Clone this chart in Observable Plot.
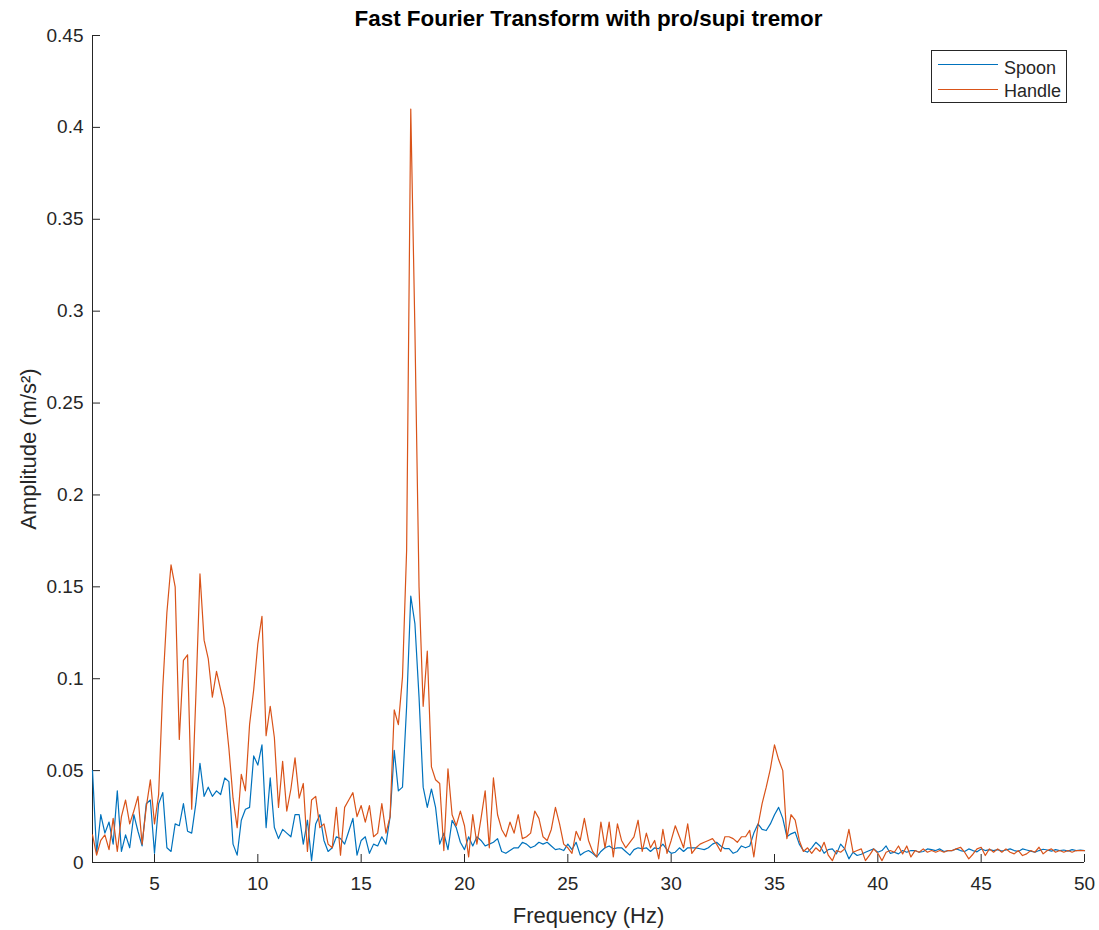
<!DOCTYPE html>
<html>
<head>
<meta charset="utf-8">
<script src="https://cdn.jsdelivr.net/npm/d3@7"></script>
<script src="https://cdn.jsdelivr.net/npm/@observablehq/plot@0.6"></script>
<style>
  html, body { margin: 0; padding: 0; background: #fff; }
  #wrap { position: relative; width: 1099px; height: 930px; font-family: "Liberation Sans", Arial, Helvetica, sans-serif; }
  #legend { position: absolute; left: 931px; top: 50px; width: 136px; height: 53px; border: 1px solid #262626; background: #fff; box-sizing: border-box; }
  .sw { position: absolute; left: 6px; width: 60px; height: 1px; }
  .lt { position: absolute; left: 72px; font-size: 18px; line-height: 18px; color: #262626; white-space: nowrap; }
</style>
</head>
<body>
<div id="wrap"></div>
<script>
const titleText = "Fast Fourier Transform with pro/supi tremor";
const xLabel = "Frequency (Hz)";
const yLabel = "Amplitude (m/s²)";
const seriesNames = ["Spoon", "Handle"];
const seriesColors = ["#0072BD", "#D95319"];
const xTicks = [5, 10, 15, 20, 25, 30, 35, 40, 45, 50];
const yTicks = [0, 0.05, 0.1, 0.15, 0.2, 0.25, 0.3, 0.35, 0.4, 0.45];

const freq = [
  2,2.2,2.4,2.6,2.8,3,3.2,3.4,3.6,3.8,
  4,4.2,4.4,4.6,4.8,5,5.2,5.4,5.6,5.8,
  6,6.2,6.4,6.6,6.8,7,7.2,7.4,7.6,7.8,
  8,8.2,8.4,8.6,8.8,9,9.2,9.4,9.6,9.8,
  10,10.2,10.4,10.6,10.8,11,11.2,11.4,11.6,11.8,
  12,12.2,12.4,12.6,12.8,13,13.2,13.4,13.6,13.8,
  14,14.2,14.4,14.6,14.8,15,15.2,15.4,15.6,15.8,
  16,16.2,16.4,16.6,16.8,17,17.2,17.4,17.6,17.8,
  18,18.2,18.4,18.6,18.8,19,19.2,19.4,19.6,19.8,
  20,20.2,20.4,20.6,20.8,21,21.2,21.4,21.6,21.8,
  22,22.2,22.4,22.6,22.8,23,23.2,23.4,23.6,23.8,
  24,24.2,24.4,24.6,24.8,25,25.2,25.4,25.6,25.8,
  26,26.2,26.4,26.6,26.8,27,27.2,27.4,27.6,27.8,
  28,28.2,28.4,28.6,28.8,29,29.2,29.4,29.6,29.8,
  30,30.2,30.4,30.6,30.8,31,31.2,31.4,31.6,31.8,
  32,32.2,32.4,32.6,32.8,33,33.2,33.4,33.6,33.8,
  34,34.2,34.4,34.6,34.8,35,35.2,35.4,35.6,35.8,
  36,36.2,36.4,36.6,36.8,37,37.2,37.4,37.6,37.8,
  38,38.2,38.4,38.6,38.8,39,39.2,39.4,39.6,39.8,
  40,40.2,40.4,40.6,40.8,41,41.2,41.4,41.6,41.8,
  42,42.2,42.4,42.6,42.8,43,43.2,43.4,43.6,43.8,
  44,44.2,44.4,44.6,44.8,45,45.2,45.4,45.6,45.8,
  46,46.2,46.4,46.6,46.8,47,47.2,47.4,47.6,47.8,
  48,48.2,48.4,48.6,48.8,49,49.2,49.4,49.6,49.8,
  50
];

const spoon = [
  0.050,0.005,0.026,0.016,0.022,0.010,0.039,0.006,0.015,0.008,
  0.026,0.017,0.009,0.032,0.034,0.005,0.032,0.038,0.008,0.006,
  0.021,0.020,0.032,0.017,0.016,0.032,0.054,0.036,0.041,0.036,
  0.039,0.037,0.046,0.044,0.010,0.004,0.023,0.029,0.030,0.058,
  0.053,0.064,0.019,0.046,0.019,0.013,0.018,0.016,0.014,0.026,
  0.026,0.010,0.023,0.001,0.021,0.026,0.012,0.006,0.008,0.014,
  0.013,0.010,0.017,0.024,0.004,0.012,0.014,0.005,0.010,0.009,
  0.014,0.010,0.025,0.061,0.039,0.041,0.085,0.145,0.130,0.090,
  0.041,0.030,0.040,0.030,0.010,0.016,0.007,0.023,0.019,0.011,
  0.007,0.014,0.009,0.014,0.012,0.009,0.010,0.011,0.013,0.006,
  0.005,0.0065,0.008,0.008,0.011,0.010,0.008,0.009,0.011,0.010,
  0.011,0.009,0.007,0.0075,0.0065,0.010,0.007,0.011,0.004,0.0056,
  0.0065,0.005,0.003,0.006,0.008,0.009,0.0075,0.008,0.008,0.006,
  0.004,0.007,0.008,0.0075,0.008,0.006,0.008,0.0075,0.010,0.007,
  0.005,0.0056,0.008,0.006,0.008,0.008,0.008,0.0075,0.007,0.008,
  0.010,0.011,0.009,0.0075,0.0075,0.005,0.006,0.009,0.008,0.009,
  0.016,0.021,0.018,0.0174,0.021,0.026,0.030,0.024,0.014,0.0156,
  0.0165,0.010,0.0065,0.0056,0.008,0.011,0.009,0.005,0.007,0.0074,
  0.0047,0.010,0.0074,0.002,0.0056,0.0038,0.0045,0.0056,0.0065,0.0074,
  0.0056,0.0065,0.009,0.005,0.0056,0.0047,0.0065,0.0056,0.0065,0.0065,
  0.0056,0.006,0.0074,0.007,0.0065,0.0074,0.006,0.0065,0.0065,0.0074,
  0.0065,0.006,0.0074,0.0065,0.0058,0.0074,0.0065,0.007,0.0065,0.007,
  0.0062,0.0068,0.0074,0.0065,0.006,0.0074,0.0068,0.0062,0.0056,0.0065,
  0.0072,0.0068,0.0062,0.007,0.0065,0.0068,0.0062,0.007,0.0065,0.0068,
  0.0065
];

const handle = [
  0.015,0.004,0.012,0.015,0.007,0.024,0.006,0.025,0.034,0.021,
  0.028,0.036,0.010,0.030,0.045,0.021,0.037,0.095,0.136,0.162,
  0.150,0.067,0.110,0.113,0.029,0.090,0.157,0.121,0.111,0.090,
  0.104,0.094,0.084,0.062,0.035,0.019,0.048,0.039,0.075,0.094,
  0.119,0.134,0.069,0.085,0.068,0.030,0.055,0.028,0.040,0.057,
  0.035,0.043,0.006,0.034,0.036,0.019,0.021,0.010,0.008,0.030,
  0.004,0.030,0.034,0.038,0.025,0.031,0.022,0.031,0.014,0.016,
  0.032,0.016,0.025,0.083,0.075,0.101,0.170,0.410,0.290,0.150,
  0.085,0.115,0.052,0.045,0.043,0.0065,0.051,0.026,0.020,0.028,
  0.020,0.003,0.026,0.010,0.024,0.039,0.008,0.046,0.026,0.018,
  0.014,0.022,0.016,0.026,0.013,0.014,0.016,0.028,0.024,0.014,
  0.012,0.018,0.030,0.021,0.010,0.008,0.005,0.017,0.012,0.024,
  0.012,0.006,0.003,0.022,0.008,0.022,0.003,0.021,0.012,0.008,
  0.011,0.014,0.023,0.006,0.016,0.008,0.012,0.002,0.018,0.005,
  0.012,0.020,0.014,0.008,0.021,0.005,0.008,0.010,0.011,0.012,
  0.013,0.010,0.006,0.014,0.014,0.013,0.011,0.014,0.014,0.0175,
  0.003,0.020,0.032,0.041,0.051,0.064,0.056,0.050,0.013,0.026,
  0.023,0.012,0.006,0.008,0.005,0.008,0.006,0.011,0.004,0.001,
  0.0065,0.0056,0.0074,0.018,0.0056,0.0065,0.0074,0.001,0.004,0.0074,
  0.005,0.001,0.0056,0.0065,0.0056,0.009,0.0047,0.009,0.003,0.0065,
  0.0056,0.0074,0.0056,0.0065,0.0056,0.0065,0.0056,0.0065,0.0065,0.0074,
  0.0083,0.0056,0.002,0.0045,0.0074,0.0083,0.0038,0.0074,0.0056,0.0074,
  0.0056,0.0074,0.0056,0.0047,0.0065,0.0038,0.0047,0.0065,0.0056,0.0083,
  0.0047,0.0065,0.0074,0.0056,0.0065,0.0056,0.0065,0.0056,0.0065,0.0065,
  0.0065
];

const axisColor = "#262626";
const series = [spoon, handle];

const chart = Plot.plot({
  width: 1099,
  height: 930,
  marginLeft: 92,
  marginRight: 15,
  marginTop: 35,
  marginBottom: 68,
  style: { fontFamily: "'Liberation Sans', Arial, Helvetica, sans-serif", color: axisColor, background: "#fff", overflow: "visible" },
  x: { domain: [2, 50] },
  y: { domain: [0, 0.45] },
  marks: [
    Plot.axisX(xTicks, { anchor: "bottom", tickSize: -8, tickPadding: 22, fontSize: 19, label: null, tickFormat: d => String(d), stroke: axisColor, fill: axisColor }),
    Plot.axisY(yTicks, { anchor: "left", tickSize: -8, tickPadding: 17, fontSize: 19, label: null, tickFormat: d => String(d), stroke: axisColor, fill: axisColor }),
    Plot.ruleX([2], { stroke: axisColor, strokeWidth: 1 }),
    Plot.ruleY([0], { stroke: axisColor, strokeWidth: 1 }),
    ...series.map((s, i) => Plot.lineY(s, { x: freq, stroke: seriesColors[i], strokeWidth: 1.2 })),
    Plot.text([titleText], { frameAnchor: "top", lineAnchor: "middle", textAnchor: "middle", dy: -17, fontSize: 22.4, fontWeight: "bold", fill: "#000" }),
    Plot.text([xLabel], { frameAnchor: "bottom", lineAnchor: "middle", textAnchor: "middle", dy: 53, fontSize: 22, fill: axisColor }),
    Plot.text([yLabel], { frameAnchor: "left", lineAnchor: "middle", textAnchor: "middle", dx: -64, rotate: -90, fontSize: 22, fill: axisColor })
  ]
});

const wrap = document.getElementById("wrap");
wrap.appendChild(chart);

const legend = document.createElement("div");
legend.id = "legend";
seriesNames.forEach((name, i) => {
  const sw = document.createElement("div");
  sw.className = "sw";
  sw.style.top = (13 + i * 25) + "px";
  sw.style.background = seriesColors[i];
  legend.appendChild(sw);
  const t = document.createElement("div");
  t.className = "lt";
  t.style.top = (8 + i * 23) + "px";
  t.textContent = name;
  legend.appendChild(t);
});
wrap.appendChild(legend);
</script>
</body>
</html>
